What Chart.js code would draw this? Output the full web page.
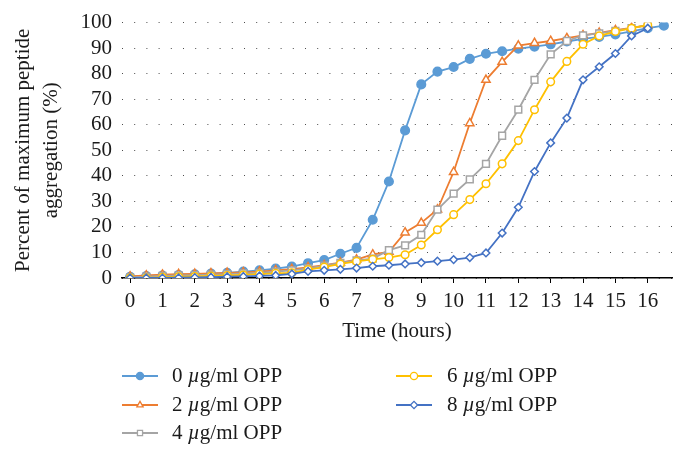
<!DOCTYPE html>
<html>
<head>
<meta charset="utf-8">
<script src="https://cdn.jsdelivr.net/npm/chart.js@4.4.0/dist/chart.umd.min.js"></script>
<style>
  html, body { margin: 0; padding: 0; background: #fff; }
  #wrap { width: 686px; height: 458px; }
</style>
</head>
<body>
<div id="wrap"><canvas id="chart"></canvas></div>
<script>
// time points (hours)
var hours = [0, 0.5, 1, 1.5, 2, 2.5, 3, 3.5, 4, 4.5, 5, 5.5, 6, 6.5, 7, 7.5, 8, 8.5,
  9, 9.5, 10, 10.5, 11, 11.5, 12, 12.5, 13, 13.5, 14, 14.5, 15, 15.5, 16, 16.5];

// percent of maximum aggregation, per OPP dose
var opp0 = [0.5, 0.8, 1, 1.2, 1.4, 1.7, 2, 2.5, 3, 3.7, 4.5, 5.8, 7, 9.5, 11.8, 22.8, 37.8, 57.8,
  75.8, 80.8, 82.6, 85.8, 87.8, 88.8, 89.8, 90.6, 91.5, 92.6, 93.6, 94.4, 95.4, 96.6, 97.8, 98.8];
var opp2 = [0.6, 1, 1.3, 1.5, 1.6, 1.8, 2, 2.2, 2.5, 3, 3.5, 4.2, 5, 6, 7.2, 9.2, 10.2, 17.8,
  21.6, 26.8, 41.5, 60.6, 77.6, 84.6, 91, 92, 92.8, 93.9, 95, 96, 97, 97.9, 99];
var opp4 = [0.2, 0.5, 0.8, 1, 1.1, 1.3, 1.5, 1.8, 2, 2.5, 3, 3.8, 4.8, 5.9, 6.9, 7.6, 10.9, 12.8,
  16.9, 26.8, 33, 38.6, 44.7, 55.7, 65.9, 77.6, 87.6, 92.8, 95, 95.8, 96.8, 97.8, 99];
var opp6 = [0, 0, 0.3, 0.5, 0.6, 0.8, 1, 1.2, 1.5, 1.8, 2, 3.3, 4.3, 5.5, 6.5, 7.3, 8, 9.1,
  12.9, 18.9, 24.8, 30.7, 36.9, 44.7, 53.8, 65.9, 76.8, 84.8, 91.5, 94.8, 96.5, 97.8, 99];
var opp8 = [0, 0, 0, 0.1, 0.2, 0.3, 0.5, 0.6, 0.8, 1, 1.6, 2.6, 3, 3.4, 3.9, 4.6, 5, 5.5,
  6, 6.6, 7.2, 8, 9.8, 17.6, 27.7, 41.7, 52.9, 62.6, 77.6, 82.7, 87.9, 94.8, 97.8];

var doses = ["0", "2", "4", "6", "8"];
var xTicks = [0, 1, 2, 3, 4, 5, 6, 7, 8, 9, 10, 11, 12, 13, 14, 15, 16];
var yTicks = [0, 10, 20, 30, 40, 50, 60, 70, 80, 90, 100];

var FONT = "'Liberation Serif', 'DejaVu Serif', serif";

function pts(vals) {
  return vals.map(function (v, i) { return { x: hours[i], y: v }; });
}

var looks = [
  { color: "#5B9BD5", style: "circle", r: 4.3, fill: "#5B9BD5" },
  { color: "#ED7D31", style: "triangle", r: 4.8, fill: "#ffffff" },
  { color: "#A5A5A5", style: "rect", r: 4.8, fill: "#ffffff" },
  { color: "#FFC000", style: "circle", r: 3.8, fill: "#ffffff" },
  { color: "#4472C4", style: "rectRot", r: 3.8, fill: "#ffffff" }
];
var series = [opp0, opp2, opp4, opp6, opp8];

var datasets = series.map(function (s, i) {
  var lk = looks[i];
  return {
    label: doses[i] + " \u00b5g/ml OPP",
    data: pts(s),
    borderColor: lk.color,
    backgroundColor: lk.fill,
    borderWidth: 1.8,
    pointStyle: lk.style,
    pointRadius: lk.r,
    pointBorderWidth: 1.5,
    pointBorderColor: lk.color,
    pointBackgroundColor: lk.fill,
    tension: 0,
    order: 4 - i
  };
});

// two column legend, first column filled top to bottom
var legendPlugin = {
  id: "colLegend",
  afterDraw: function (chart) {
    var ctx = chart.ctx;
    var cols = [{ x: 122, tx: 172 }, { x: 396, tx: 447 }];
    var rows = [376, 405, 433];
    ctx.save();
    datasets.forEach(function (ds, i) {
      var c = cols[Math.floor(i / 3)];
      var y = rows[i % 3];
      var lk = looks[i];
      ctx.strokeStyle = lk.color;
      ctx.lineWidth = 2;
      ctx.beginPath();
      ctx.moveTo(c.x, y);
      ctx.lineTo(c.x + 36, y);
      ctx.stroke();
      ctx.fillStyle = lk.fill;
      ctx.strokeStyle = lk.color;
      ctx.lineWidth = 1.3;
      Chart.helpers.drawPoint(ctx, { pointStyle: lk.style, radius: 3.6, rotation: 0, borderWidth: 1.3 }, c.x + 18, y);

      ctx.fillStyle = "#1a1a1a";
      ctx.textBaseline = "middle";
      ctx.textAlign = "left";
      var tx = c.tx;
      ctx.font = "21px " + FONT;
      ctx.fillText(doses[i] + " ", tx, y);
      tx += ctx.measureText(doses[i] + " ").width;
      ctx.font = "italic 21px " + FONT;
      ctx.fillText("\u00b5", tx, y);
      tx += ctx.measureText("\u00b5").width;
      ctx.font = "21px " + FONT;
      ctx.fillText("g/ml OPP", tx, y);
    });
    ctx.restore();
  }
};

new Chart(document.getElementById("chart"), {
  type: "line",
  data: { datasets: datasets },
  plugins: [legendPlugin],
  options: {
    responsive: true,
    maintainAspectRatio: false,
    animation: false,
    layout: { padding: { top: 22, right: 14, bottom: 110, left: 0 } },
    plugins: { legend: { display: false }, tooltip: { enabled: false } },
    scales: {
      x: {
        type: "linear",
        min: -0.25,
        max: 16.75,
        afterBuildTicks: function (s) { s.ticks = xTicks.map(function (v) { return { value: v }; }); },
        afterFit: function (s) { s.height = 70; },
        grid: { drawOnChartArea: false, drawTicks: true, tickLength: 5, color: "#000", lineWidth: 1 },
        border: { display: true, color: "#000", width: 1.5 },
        ticks: { color: "#1a1a1a", font: { family: FONT, size: 21 }, padding: 6, maxRotation: 0, autoSkip: false },
        title: { display: true, text: "Time (hours)", color: "#1a1a1a", font: { family: FONT, size: 21 }, padding: { top: 4, bottom: 4 } }
      },
      y: {
        min: 0,
        max: 100,
        afterBuildTicks: function (s) { s.ticks = yTicks.map(function (v) { return { value: v }; }); },
        afterFit: function (s) { s.width = 122; },
        grid: { drawTicks: false, color: "rgba(0,0,0,0.7)", lineWidth: 1 },
        border: { display: false, dash: [1, 11.2] },
        ticks: { color: "#1a1a1a", font: { family: FONT, size: 21 }, padding: 10, autoSkip: false },
        title: {
          display: true,
          text: ["Percent of maximum peptide", "aggregation (%)"],
          color: "#1a1a1a",
          font: { family: FONT, size: 21, lineHeight: 1.31 },
          padding: { top: 10, bottom: 0 }
        }
      }
    }
  }
});
</script>
</body>
</html>
